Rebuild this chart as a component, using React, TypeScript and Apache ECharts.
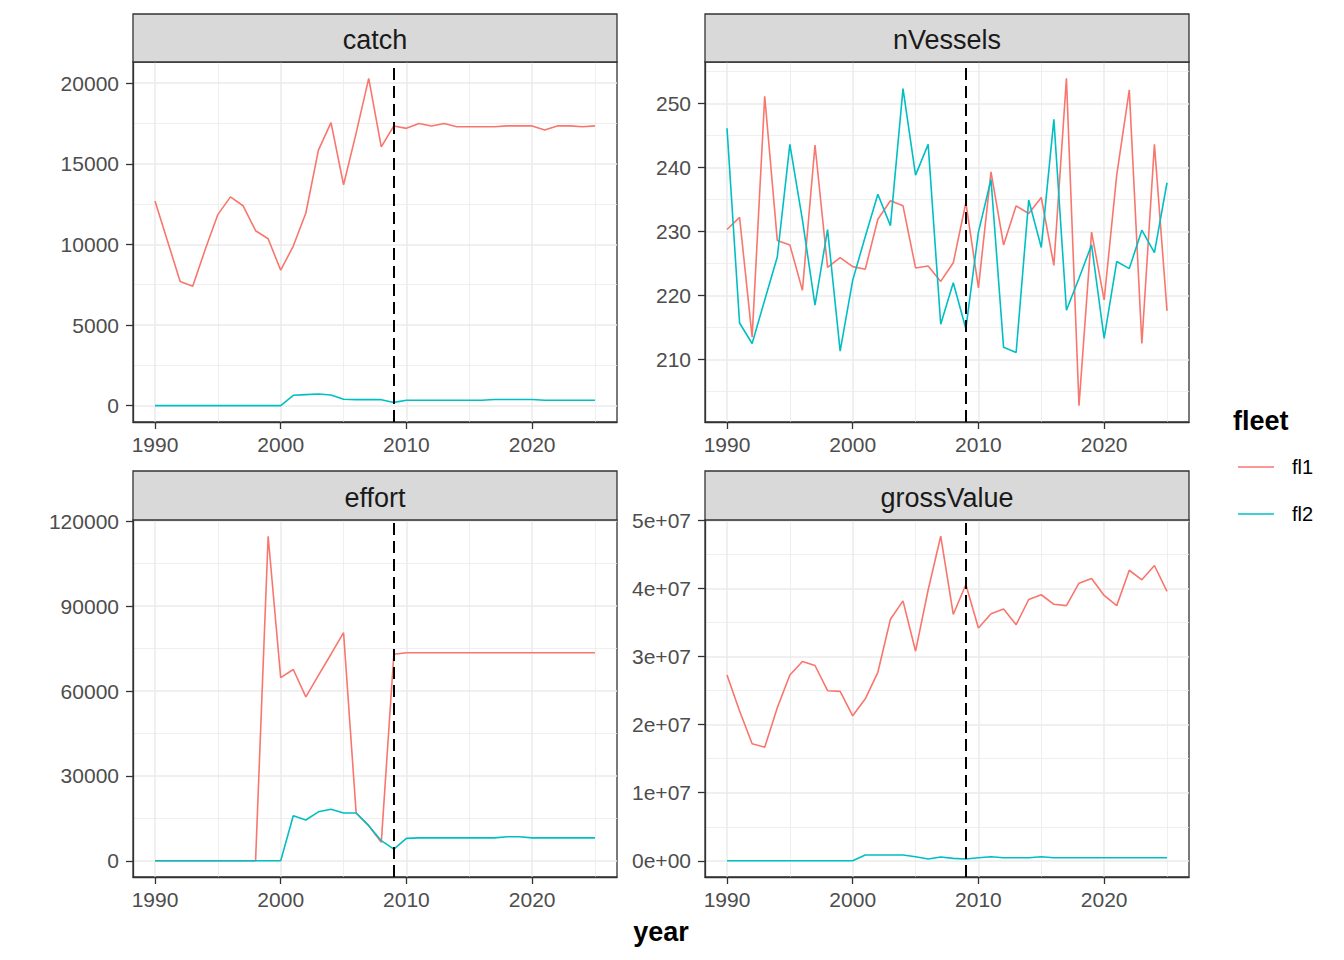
import React, { useEffect, useRef } from "react";
import * as echarts from "echarts";

const years = [1990, 1991, 1992, 1993, 1994, 1995, 1996, 1997, 1998, 1999, 2000, 2001, 2002, 2003, 2004, 2005, 2006, 2007, 2008, 2009, 2010, 2011, 2012, 2013, 2014, 2015, 2016, 2017, 2018, 2019, 2020, 2021, 2022, 2023, 2024, 2025];

const catchFl1 = [12700, 10200, 7700, 7400, 9700, 11850, 12950, 12400, 10850, 10350, 8400, 9900, 11950, 15850, 17550, 13700, 16900, 20300, 16050, 17350, 17200, 17500, 17350, 17500, 17300, 17300, 17300, 17300, 17350, 17350, 17350, 17100, 17350, 17350, 17300, 17350];
const catchFl2 = [0, 0, 0, 0, 0, 0, 0, 0, 0, 0, 0, 640, 680, 720, 660, 400, 370, 370, 370, 200, 330, 330, 330, 330, 330, 330, 330, 380, 380, 380, 380, 330, 330, 330, 330, 330];

const nVesselsFl1 = [230.3, 232.2, 213.5, 251.1, 228.6, 227.9, 220.8, 243.5, 224.4, 225.9, 224.5, 224.1, 231.9, 234.8, 234.0, 224.3, 224.6, 222.2, 225.1, 234.5, 221.2, 239.3, 227.9, 234.0, 232.8, 235.3, 224.7, 253.9, 202.8, 229.9, 219.3, 238.8, 252.1, 212.5, 243.6, 217.6];
const nVesselsFl2 = [246.1, 215.7, 212.5, 219.3, 226.0, 243.6, 231.8, 218.5, 230.3, 211.3, 222.4, 229.2, 235.8, 230.9, 252.3, 238.8, 243.6, 215.5, 222.0, 214.8, 229.9, 238.1, 211.9, 211.1, 234.9, 227.5, 247.5, 217.7, 222.7, 227.9, 213.3, 225.3, 224.2, 230.2, 226.7, 237.6];

const effortFl1 = [0, 0, 0, 0, 0, 0, 0, 0, 0, 114700, 64700, 67600, 57900, 65500, 73000, 80600, 16900, 12400, 6500, 73000, 73500, 73500, 73500, 73500, 73500, 73500, 73500, 73500, 73500, 73500, 73500, 73500, 73500, 73500, 73500, 73500];
const effortFl2 = [0, 0, 0, 0, 0, 0, 0, 0, 0, 0, 0, 15900, 14400, 17300, 18200, 16900, 16900, 12400, 7100, 4100, 7900, 8100, 8100, 8100, 8100, 8100, 8100, 8100, 8500, 8500, 8100, 8100, 8100, 8100, 8100, 8100];

const grossValueFl1 = [27.3e6, 22.0e6, 17.2e6, 16.7e6, 22.5e6, 27.3e6, 29.3e6, 28.7e6, 25.0e6, 24.9e6, 21.3e6, 23.8e6, 27.7e6, 35.5e6, 38.2e6, 30.8e6, 39.8e6, 47.7e6, 36.2e6, 40.6e6, 34.2e6, 36.3e6, 37.0e6, 34.7e6, 38.4e6, 39.1e6, 37.7e6, 37.5e6, 40.8e6, 41.5e6, 39.0e6, 37.5e6, 42.7e6, 41.3e6, 43.4e6, 39.6e6];
const grossValueFl2 = [0, 0, 0, 0, 0, 0, 0, 0, 0, 0, 0, 0.85e6, 0.85e6, 0.85e6, 0.85e6, 0.6e6, 0.25e6, 0.55e6, 0.35e6, 0.25e6, 0.45e6, 0.6e6, 0.45e6, 0.45e6, 0.45e6, 0.6e6, 0.45e6, 0.45e6, 0.45e6, 0.45e6, 0.45e6, 0.45e6, 0.45e6, 0.45e6, 0.45e6, 0.45e6];

const xTicks = [1990, 2000, 2010, 2020];
const xMinor = [1995, 2005, 2015, 2025];
const catchTicks = [0, 5000, 10000, 15000, 20000];
const catchMinor = [2500, 7500, 12500, 17500];
const nVesselsTicks = [210, 220, 230, 240, 250];
const nVesselsMinor = [205, 215, 225, 235, 245, 255];
const effortTicks = [0, 30000, 60000, 90000, 120000];
const effortMinor = [15000, 45000, 75000, 105000];
const grossTicks = [0, 1e7, 2e7, 3e7, 4e7, 5e7];
const grossMinor = [5e6, 15e6, 25e6, 35e6, 45e6];

const refYear = 2009;
const fleetNames = ["fl1", "fl2"];
const fleetColors = ["#F8766D", "#00BFC4"];
const panelNames = ["catch", "nVessels", "effort", "grossValue"];

const FONT = "'Liberation Sans', Arial, sans-serif";

const panelBoxes = [
  { left: 133, top: 62, width: 484, height: 360 },
  { left: 705, top: 62, width: 484, height: 360 },
  { left: 133, top: 520, width: 484, height: 357 },
  { left: 705, top: 520, width: 484, height: 357 },
];
const stripBoxes = [
  { top: 14, height: 48 },
  { top: 14, height: 48 },
  { top: 471, height: 49 },
  { top: 471, height: 49 },
];

function expand(vals: number[]): [number, number] {
  const lo = Math.min(...vals);
  const hi = Math.max(...vals);
  const d = (hi - lo) * 0.05;
  return [lo - d, hi + d];
}

function grossFmt(v: number): string {
  if (v === 0) return "0e+00";
  const m = Math.round(v / 1e7);
  return m + "e+07";
}

export default function App() {
  const ref = useRef<HTMLDivElement>(null);
  useEffect(() => {
    if (!ref.current) return;
    const chart = echarts.init(ref.current, undefined, { renderer: "svg" });

    const panels = [
      { fl1: catchFl1, fl2: catchFl2, ticks: catchTicks, minor: catchMinor, fmt: (v: number) => String(v) },
      { fl1: nVesselsFl1, fl2: nVesselsFl2, ticks: nVesselsTicks, minor: nVesselsMinor, fmt: (v: number) => String(v) },
      { fl1: effortFl1, fl2: effortFl2, ticks: effortTicks, minor: effortMinor, fmt: (v: number) => String(v) },
      { fl1: grossValueFl1, fl2: grossValueFl2, ticks: grossTicks, minor: grossMinor, fmt: grossFmt },
    ];
    const xExt = expand(years);

    const grids: any[] = [];
    const xAxes: any[] = [];
    const yAxes: any[] = [];
    const series: any[] = [];
    const graphics: any[] = [];

    const tickStyle = { color: "#333333", width: 1.3 };
    const axisLineStyle = { color: "#333333", width: 1.3 };
    const labelStyle = { color: "#4D4D4D", fontSize: 21, fontFamily: FONT };

    panels.forEach((p, i) => {
      const box = panelBoxes[i];
      grids.push({
        left: box.left,
        top: box.top,
        width: box.width,
        height: box.height,
        show: true,
        backgroundColor: "#FFFFFF",
        borderColor: "#333333",
        borderWidth: 1.3,
        containLabel: false,
      });
      const yExt = expand([...p.fl1, ...p.fl2]);
      xAxes.push({
        type: "value",
        gridIndex: i,
        min: xExt[0],
        max: xExt[1],
        z: 5,
        axisLine: { show: true, onZero: false, lineStyle: axisLineStyle },
        splitLine: { show: false },
        axisTick: { show: true, inside: false, length: 7, lineStyle: tickStyle, customValues: xTicks },
        axisLabel: { ...labelStyle, margin: 12, customValues: xTicks, formatter: (v: number) => String(v) },
      });
      yAxes.push({
        type: "value",
        gridIndex: i,
        min: yExt[0],
        max: yExt[1],
        z: 5,
        axisLine: { show: true, onZero: false, lineStyle: axisLineStyle },
        splitLine: { show: false },
        axisTick: { show: true, inside: false, length: 7, lineStyle: tickStyle, customValues: p.ticks },
        axisLabel: { ...labelStyle, margin: 14, customValues: p.ticks, formatter: p.fmt },
      });

      const gridLines: any[] = [];
      xMinor.forEach((v) => gridLines.push({ xAxis: v, lineStyle: { color: "#EBEBEB", width: 0.8, type: "solid" } }));
      p.minor.forEach((v) => gridLines.push({ yAxis: v, lineStyle: { color: "#EBEBEB", width: 0.8, type: "solid" } }));
      xTicks.forEach((v) => gridLines.push({ xAxis: v, lineStyle: { color: "#EBEBEB", width: 1.5, type: "solid" } }));
      p.ticks.forEach((v) => gridLines.push({ yAxis: v, lineStyle: { color: "#EBEBEB", width: 1.5, type: "solid" } }));

      series.push({
        type: "line",
        name: "grid" + i,
        xAxisIndex: i,
        yAxisIndex: i,
        data: [],
        silent: true,
        z: 1,
        markLine: {
          silent: true,
          symbol: ["none", "none"],
          z: 1,
          label: { show: false },
          emphasis: { disabled: true },
          data: gridLines,
        },
      });

      [p.fl1, p.fl2].forEach((vals, k) => {
        series.push({
          type: "line",
          name: fleetNames[k],
          xAxisIndex: i,
          yAxisIndex: i,
          data: years.map((y, j) => [y, vals[j]]),
          showSymbol: false,
          symbol: "none",
          z: 3,
          lineStyle: { color: fleetColors[k], width: 1.6 },
          itemStyle: { color: fleetColors[k] },
          emphasis: { disabled: true },
        });
      });

      series.push({
        type: "line",
        name: "ref" + i,
        xAxisIndex: i,
        yAxisIndex: i,
        data: [],
        silent: true,
        z: 5,
        markLine: {
          silent: true,
          symbol: ["none", "none"],
          z: 10,
          label: { show: false },
          emphasis: { disabled: true },
          data: [{ xAxis: refYear, lineStyle: { color: "#000000", width: 2, type: [12, 6] } }],
        },
      });

      const sb = stripBoxes[i];
      graphics.push({
        type: "rect",
        shape: { x: box.left, y: sb.top, width: box.width, height: sb.height },
        style: { fill: "#D9D9D9", stroke: "#333333", lineWidth: 1.3 },
        z: 100,
      });
      graphics.push({
        type: "text",
        x: box.left + box.width / 2,
        y: sb.top + sb.height / 2 + 2,
        style: {
          text: panelNames[i],
          fill: "#1A1A1A",
          font: `27px ${FONT}`,
          align: "center",
          verticalAlign: "middle",
        },
        z: 101,
      });
    });

    // axis title
    graphics.push({
      type: "text",
      x: 661,
      y: 932,
      style: { text: "year", fill: "#000000", font: `bold 27px ${FONT}`, align: "center", verticalAlign: "middle" },
    });
    // legend
    graphics.push({
      type: "text",
      x: 1233,
      y: 421,
      style: { text: "fleet", fill: "#000000", font: `bold 27px ${FONT}`, align: "left", verticalAlign: "middle" },
    });
    const legendY = [467, 514];
    fleetNames.forEach((n, k) => {
      graphics.push({
        type: "line",
        shape: { x1: 1238, y1: legendY[k], x2: 1274, y2: legendY[k] },
        style: { stroke: fleetColors[k], lineWidth: 1.6 },
      });
      graphics.push({
        type: "text",
        x: 1292,
        y: legendY[k],
        style: { text: n, fill: "#000000", font: `20px ${FONT}`, align: "left", verticalAlign: "middle" },
      });
    });

    chart.setOption({
      animation: false,
      backgroundColor: "#FFFFFF",
      textStyle: { fontFamily: FONT },
      grid: grids,
      xAxis: xAxes,
      yAxis: yAxes,
      series,
      graphic: graphics,
    });

    return () => {
      chart.dispose();
    };
  }, []);

  return (
    <div
      ref={ref}
      style={{ position: "fixed", left: 0, top: 0, width: 1344, height: 960, background: "#FFFFFF" }}
    />
  );
}
